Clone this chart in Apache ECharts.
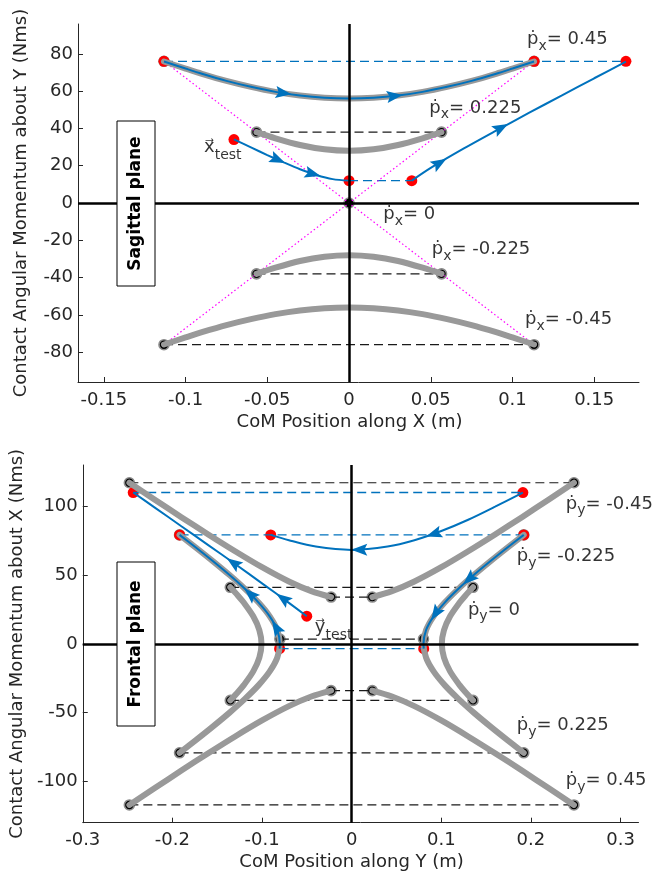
<!DOCTYPE html>
<html><head><meta charset="utf-8">
<script src="https://cdn.jsdelivr.net/npm/echarts@6/dist/echarts.min.js"></script>
<style>html,body{margin:0;padding:0;background:#fff}#c{width:652px;height:880px}</style>
</head><body><div id="c"></div>
<script>
// ---------------- Sagittal plane (top) ----------------
const sagXTicks = [-0.15, -0.1, -0.05, 0, 0.05, 0.1, 0.15];
const sagYTicks = [-80, -60, -40, -20, 0, 20, 40, 60, 80];
const sagXRange = [-0.1658, 0.1774];
const sagYRange = [-96, 96];

const sagGray56 = [[-0.1132,75.9],[-0.1,72.1],[-0.09,69.3],[-0.075,65.5],[-0.06,62.3],[-0.045,59.6],[-0.03,57.6],[-0.015,56.4],[0,56],[0.015,56.4],[0.03,57.6],[0.045,59.6],[0.06,62.3],[0.075,65.5],[0.09,69.3],[0.1,72.1],[0.1132,75.9]];
const sagGray28 = [[-0.0566,38],[-0.045,34.7],[-0.03,31.1],[-0.015,28.8],[0,28],[0.015,28.8],[0.03,31.1],[0.045,34.7],[0.0566,38]];
const sagGrayM28 = [[-0.0566,-38],[-0.045,-34.7],[-0.03,-31.1],[-0.015,-28.8],[0,-28],[0.015,-28.8],[0.03,-31.1],[0.045,-34.7],[0.0566,-38]];
const sagGrayM56 = [[-0.1132,-75.9],[-0.1,-72.1],[-0.09,-69.3],[-0.075,-65.5],[-0.06,-62.3],[-0.045,-59.6],[-0.03,-57.6],[-0.015,-56.4],[0,-56],[0.015,-56.4],[0.03,-57.6],[0.045,-59.6],[0.06,-62.3],[0.075,-65.5],[0.09,-69.3],[0.1,-72.1],[0.1132,-75.9]];

const sagBlueTest = [[-0.0704,34.1],[-0.06,29.8],[-0.05,25.7],[-0.04,21.8],[-0.03,18.1],[-0.02,15.0],[-0.01,12.8],[0,12]];
const sagBlueRise = [[0.0384,12],[0.05,18.8],[0.07,29.1],[0.09,38.8],[0.11,48.3],[0.13,57.6],[0.15,66.9],[0.1694,75.8]];

const sagBlueDashed = [[[-0.1132,76],[0.1694,76]], [[0,12],[0.0384,12]]];
const sagBlackDashed = [[[-0.0566,38],[0.0566,38]], [[-0.0566,-38],[0.0566,-38]], [[-0.1132,-76],[0.1132,-76]]];
const sagDotted = [[[-0.1132,76],[0.1132,-76]], [[0.1132,76],[-0.1132,-76]]];
const sagBlack = [[-0.1132,76],[0.1132,76],[-0.0566,38],[0.0566,38],[0,0],[-0.0566,-38],[0.0566,-38],[-0.1132,-76],[0.1132,-76]];
const sagRed = [[-0.1132,76],[0.1132,76],[0.1694,76],[-0.0704,34],[0,12],[0.0384,12]];
// [x, y, xNext, yNext]  (arrow centre and a point further along the path)
const sagArrows = [[-0.04,58.9,-0.03,57.6],[0.028,57.4,0.038,58.6],[-0.0435,23.2,-0.035,20.0],[-0.0221,15.6,-0.012,13.1],[0.0554,21.5,0.07,29.1],[0.093,40.3,0.11,48.3]];
const sagNotes = [[0.1086,87.6,'x','= 0.45'],[0.0488,50.9,'x','= 0.225'],[0.0207,-6.3,'x','= 0'],[0.0503,-24.9,'x','= -0.225'],[0.1074,-62.6,'x','= -0.45']];
const sagTestNote = [-0.089, 29.7, 'x'];

// ---------------- Frontal plane (bottom) ----------------
const frXTicks = [-0.3, -0.2, -0.1, 0, 0.1, 0.2, 0.3];
const frYTicks = [-100, -50, 0, 50, 100];
const frXRange = [-0.3, 0.32];
const frYRange = [-130, 130];

const frGrayUL = [[-0.248,117.1],[-0.22,105.0],[-0.19,92.1],[-0.16,79.5],[-0.13,67.3],[-0.1,55.7],[-0.07,45.3],[-0.045,38.3],[-0.023,34.0]];
const frGrayUR = [[0.248,117.1],[0.22,105.0],[0.19,92.1],[0.16,79.5],[0.13,67.3],[0.1,55.7],[0.07,45.3],[0.045,38.3],[0.023,34.0]];
const frGrayLL = [[-0.248,-117.1],[-0.22,-105.0],[-0.19,-92.1],[-0.16,-79.5],[-0.13,-67.3],[-0.1,-55.7],[-0.07,-45.3],[-0.045,-38.3],[-0.023,-34.0]];
const frGrayLR = [[0.248,-117.1],[0.22,-105.0],[0.19,-92.1],[0.16,-79.5],[0.13,-67.3],[0.1,-55.7],[0.07,-45.3],[0.045,-38.3],[0.023,-34.0]];
const frGrayInL = [[-0.192,79.2],[-0.1738,70],[-0.1546,60],[-0.1362,50],[-0.1191,40],[-0.1038,30],[-0.0914,20],[-0.083,10],[-0.0801,0],[-0.083,-10],[-0.0914,-20],[-0.1038,-30],[-0.1191,-40],[-0.1362,-50],[-0.1546,-60],[-0.1738,-70],[-0.192,-79.2]];
const frGrayInR = [[0.192,79.2],[0.1738,70],[0.1546,60],[0.1362,50],[0.1191,40],[0.1038,30],[0.0914,20],[0.083,10],[0.0801,0],[0.083,-10],[0.0914,-20],[0.1038,-30],[0.1191,-40],[0.1362,-50],[0.1546,-60],[0.1738,-70],[0.192,-79.2]];
const frGrayOutL = [[-0.1354,41.1],[-0.1268,35],[-0.1204,30],[-0.1098,20],[-0.103,10],[-0.1006,0],[-0.103,-10],[-0.1098,-20],[-0.1204,-30],[-0.1268,-35],[-0.1354,-41.1]];
const frGrayOutR = [[0.1354,41.1],[0.1268,35],[0.1204,30],[0.1098,20],[0.103,10],[0.1006,0],[0.103,-10],[0.1098,-20],[0.1204,-30],[0.1268,-35],[0.1354,-41.1]];

const frBlueTest = [[-0.0501,20.1],[-0.07,29.8],[-0.1,44.0],[-0.13,58.0],[-0.16,71.8],[-0.19,85.5],[-0.22,99.2],[-0.2437,110]];
const frBlueTop = [[0.191,110],[0.16,99.7],[0.13,90.2],[0.1,82.0],[0.07,75.3],[0.04,70.7],[0,68.3],[-0.04,70.7],[-0.07,75.3],[-0.0903,79.2]];
const frBlueRight = [[0.192,79.2],[0.1738,70],[0.1546,60],[0.1362,50],[0.1191,40],[0.1038,30],[0.0914,20],[0.083,10],[0.0801,0],[0.0804,-3.5]];
const frBlueLeft = [[-0.0804,-3.5],[-0.0801,0],[-0.083,10],[-0.0914,20],[-0.1038,30],[-0.1191,40],[-0.1362,50],[-0.1546,60],[-0.1738,70],[-0.192,79.2]];

const frBlueDashed = [[[-0.2437,110],[0.191,110]], [[-0.192,79.2],[0.192,79.2]], [[-0.0804,-3.5],[0.0804,-3.5]]];
const frBlackDashed = [[[-0.248,117.1],[0.248,117.1]], [[-0.1354,41.1],[0.1354,41.1]], [[-0.023,34],[0.023,34]], [[-0.0801,3.5],[0.0801,3.5]],
  [[-0.023,-34],[0.023,-34]], [[-0.1354,-41.1],[0.1354,-41.1]], [[-0.192,-79.2],[0.192,-79.2]], [[-0.248,-117.1],[0.248,-117.1]]];
const frBlack = [[-0.248,117.1],[0.248,117.1],[-0.023,34],[0.023,34],[-0.1354,41.1],[0.1354,41.1],[-0.0801,3.5],[0.0801,3.5],[-0.192,79.2],[0.192,79.2],
  [-0.248,-117.1],[0.248,-117.1],[-0.023,-34],[0.023,-34],[-0.1354,-41.1],[0.1354,-41.1],[-0.192,-79.2],[0.192,-79.2]];
const frRed = [[-0.2437,110],[0.191,110],[-0.192,79.2],[-0.0903,79.2],[0.192,79.2],[-0.0804,-3.5],[0.0804,-3.5],[-0.0501,20.1]];
const frArrows = [[-0.0767,33.0,-0.1,44.0],[-0.132,58.9,-0.16,71.8],[0.0915,79.9,0.07,75.3],[0.0085,68.4,-0.01,68.4],
  [0.1309,47,0.1191,40],[0.0936,22,0.0866,15],[-0.1132,36.3,-0.1362,50],[-0.0843,12,-0.0914,20]];
const frNotes = [[0.2383,101.7,'y','= -0.45'],[0.1836,63.4,'y','= -0.225'],[0.1291,24.4,'y','= 0'],[0.1836,-59.4,'y','= 0.225'],[0.2383,-99.3,'y','= 0.45']];
const frTestNote = [-0.0416, 12.1, 'y'];

// ---------------- styling ----------------
const FONT = 'DejaVu Sans';
const BLUE = '#0072BD';
const AX = '#262626';
const chart = echarts.init(document.getElementById('c'), null, {renderer: 'canvas'});

function xAxisCfg(g, range, ticks, name) {
  return {type: 'value', gridIndex: g, min: range[0], max: range[1], name: name, nameLocation: 'middle', nameGap: 31,
    nameTextStyle: {fontFamily: FONT, fontSize: 18, color: AX, padding: [0, 18, 0, 0]},
    axisLine: {show: true, onZero: false, lineStyle: {color: AX, width: 1}},
    axisTick: {show: true, inside: true, length: 5, customValues: ticks, lineStyle: {color: AX, width: 1}},
    axisLabel: {customValues: ticks, margin: 9, fontFamily: FONT, fontSize: 18, color: AX, formatter: v => String(v)},
    splitLine: {show: false}};
}
function yAxisCfg(g, range, ticks, name) {
  return {type: 'value', gridIndex: g, min: range[0], max: range[1], name: name, nameLocation: 'middle', nameGap: 48,
    nameTextStyle: {fontFamily: FONT, fontSize: 18, color: AX},
    axisLine: {show: true, onZero: false, lineStyle: {color: AX, width: 1}},
    axisTick: {show: true, inside: true, length: 5, customValues: ticks, lineStyle: {color: AX, width: 1}},
    axisLabel: {customValues: ticks, margin: 5, fontFamily: FONT, fontSize: 18, color: AX, formatter: v => String(v)},
    splitLine: {show: false}};
}
function line(g, data, style, smooth) {
  return {type: 'line', xAxisIndex: g, yAxisIndex: g, data: data, symbol: 'none', smooth: smooth ? 0.3 : false,
    lineStyle: style, silent: true, animation: false};
}
const grayStyle = {color: '#999999', width: 6, cap: 'round', join: 'round'};
const blueStyle = {color: BLUE, width: 2};
const blueDash = {color: BLUE, width: 1.3, type: [9, 5]};
const blackDash = {color: '#1a1a1a', width: 1.2, type: [9, 5]};
const dotted = {color: '#ff00ff', width: 1.2, type: [1.5, 2.5]};

const RICH = {
  p: {fontFamily: FONT, fontSize: 18, color: '#000'},
  s: {fontFamily: FONT, fontSize: 14, color: '#000', padding: [13, 0, 0, 0]},
  t: {fontFamily: FONT, fontSize: 18, color: '#000'},
  v: {fontFamily: FONT, fontSize: 18, color: '#000'},
  u: {fontFamily: FONT, fontSize: 14, color: '#000', padding: [16, 0, 0, 0]}
};
function notes(g, arr, test) {
  const data = arr.map(n => ({value: [n[0], n[1]], label: {formatter: '{p|\u1E57}{s|' + n[2] + '}{t|' + n[3] + '}'}}));
  data.push({value: [test[0], test[1]], label: {formatter: '{v|' + test[2] + '\u20D7}{u|test}'}});
  return {type: 'scatter', xAxisIndex: g, yAxisIndex: g, symbolSize: 1, itemStyle: {color: 'rgba(0,0,0,0)'},
    label: {show: true, position: 'right', distance: 0, rich: RICH}, data: data, silent: true, animation: false, z: 10};
}
function zeroLines(g) {
  return {type: 'line', xAxisIndex: g, yAxisIndex: g, data: [], symbol: 'none', silent: true, animation: false,
    markLine: {silent: true, symbol: ['none', 'none'], label: {show: false}, animation: false,
      lineStyle: {color: '#000', width: 2.5, type: 'solid'}, data: [{yAxis: 0}, {xAxis: 0}]}};
}
function points(g, data, kind) {
  const st = kind === 'red' ? {symbolSize: 11, itemStyle: {color: '#ff0000', opacity: 1}}
                            : {symbolSize: 10, itemStyle: {color: '#000', borderColor: '#8c8c8c', borderWidth: 1.6, opacity: 1}};
  return Object.assign({type: 'scatter', xAxisIndex: g, yAxisIndex: g, data: data, silent: true, animation: false}, st);
}
const ARROW = 'path://M6,0 L12,16 L6,13 L0,16 Z';
function arrows(g, arr, id) {
  return {id: id, type: 'scatter', xAxisIndex: g, yAxisIndex: g, symbol: ARROW, symbolSize: [12, 16], symbolKeepAspect: false,
    itemStyle: {color: BLUE, opacity: 1}, data: arr.map(a => [a[0], a[1]]), silent: true, animation: false, z: 3};
}

function buildPlot(g, P) {
  const s = [];
  P.blackDashed.forEach(d => s.push(line(g, d, blackDash)));
  P.blueDashed.forEach(d => s.push(line(g, d, blueDash)));
  (P.dotted || []).forEach(d => s.push(line(g, d, dotted)));
  P.gray.forEach(d => s.push(line(g, d, grayStyle, true)));
  s.push(zeroLines(g));
  P.blue.forEach(d => s.push(line(g, d, blueStyle, true)));
  s.push(arrows(g, P.arrows, 'arr' + g));
  s.push(points(g, P.black, 'black'));
  s.push(points(g, P.red, 'red'));
  s.push(notes(g, P.notes, P.test));
  return s;
}

const series = [].concat(
  buildPlot(0, {blackDashed: sagBlackDashed, blueDashed: sagBlueDashed, dotted: sagDotted,
    gray: [sagGray56, sagGray28, sagGrayM28, sagGrayM56], blue: [sagGray56, sagBlueTest, sagBlueRise],
    arrows: sagArrows, black: sagBlack, red: sagRed, notes: sagNotes, test: sagTestNote}),
  buildPlot(1, {blackDashed: frBlackDashed, blueDashed: frBlueDashed,
    gray: [frGrayUL, frGrayUR, frGrayLL, frGrayLR, frGrayInL, frGrayInR, frGrayOutL, frGrayOutR],
    blue: [frBlueTest, frBlueTop, frBlueRight, frBlueLeft],
    arrows: frArrows, black: frBlack, red: frRed, notes: frNotes, test: frTestNote})
);

function box(x, y, w, h, text) {
  return {type: 'group', z: 100, children: [
    {type: 'rect', shape: {x: x, y: y, width: w, height: h}, style: {fill: '#fff', stroke: '#000', lineWidth: 1}, z: 100},
    {type: 'text', x: x + w / 2, y: y + h / 2, rotation: Math.PI / 2, z: 101,
      style: {text: text, font: 'bold 17px "DejaVu Sans"', fill: '#000', textAlign: 'center', textVerticalAlign: 'middle'}}
  ]};
}

chart.setOption({
  animation: false,
  backgroundColor: '#fff',
  grid: [{left: 78, top: 24, width: 561, height: 358}, {left: 78, top: 465, width: 560.5, height: 357.7}],
  xAxis: [xAxisCfg(0, sagXRange, sagXTicks, 'CoM Position along X (m)'), xAxisCfg(1, frXRange, frXTicks, 'CoM Position along Y (m)')],
  yAxis: [yAxisCfg(0, sagYRange, sagYTicks, 'Contact Angular Momentum about Y (Nms)'), yAxisCfg(1, frYRange, frYTicks, 'Contact Angular Momentum about X (Nms)')],
  series: series,
  graphic: [box(117, 121, 38, 165, 'Sagittal plane'), box(117, 562, 38, 164, 'Frontal plane')]
});

function rotated(g, arr) {
  return arr.map(a => {
    const p = chart.convertToPixel({gridIndex: g}, [a[0], a[1]]);
    const q = chart.convertToPixel({gridIndex: g}, [a[2], a[3]]);
    const dx = q[0] - p[0], dy = q[1] - p[1];
    return {value: [a[0], a[1]], symbolRotate: Math.atan2(-dx, -dy) * 180 / Math.PI};
  });
}
chart.setOption({series: [{id: 'arr0', data: rotated(0, sagArrows)}, {id: 'arr1', data: rotated(1, frArrows)}]});
</script></body></html>
